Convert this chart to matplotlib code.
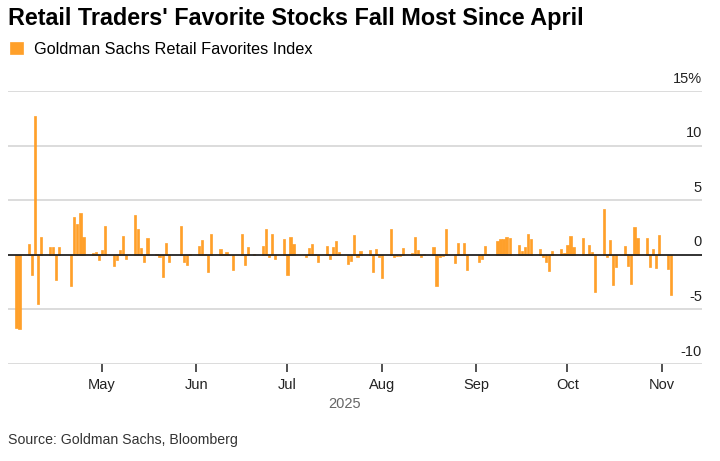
import numpy as np
import pandas as pd
import matplotlib
matplotlib.use("Agg")
import matplotlib.pyplot as plt
import matplotlib.dates as mdates
import matplotlib.transforms as mtransforms

plt.rcParams['font.family'] = ['Liberation Sans', 'DejaVu Sans']

# trading days Apr 3 - Nov 4 2025 (US market holidays removed)
holidays = ['2025-04-18', '2025-05-26', '2025-06-19', '2025-07-04', '2025-09-01']

apr = [-6.7, -6.8, 1.0, -1.85, 12.7, -4.5, 1.6, 0.72, 0.7, -2.3, 0.7,
       -2.9, 3.45, 2.85, 3.8, 1.62, 0.13, 0.22, -0.5]
may = [0.45, 2.68, -1.05, -0.52, 0.48, 1.68, -0.36, 3.65, 2.37, 0.58, -0.68,
       1.57, 0.05, -0.22, -2.07, 1.12, -0.66, 2.6, -0.65, -0.97, 0.03]
jun = [0.8, 1.38, 0.03, -1.56, 1.92, 0.52, 0.05, 0.3, -0.03, -1.36, 1.86,
       -0.93, 0.75, 0.1, 0.84, 2.33, -0.2, 1.87, -0.41, 1.48]
jul = [-1.81, 1.63, 0.96, -0.2, 0.62, 1.0, 0.03, -0.66, 0.81, -0.35, 0.72,
       1.23, 0.23, -0.83, -0.55, 1.84, -0.21, 0.35, 0.47, -1.54, 0.52, -0.2]
aug = [-2.16, 2.33, -0.2, -0.07, -0.1, 0.64, 0.21, 1.66, 0.44, -0.24, 0.1,
       0.75, -2.86, -0.2, -0.15, 2.4, -0.77, 1.05, 0.03, 1.11, -1.35]
sep = [-0.63, -0.36, 0.78, 0.03, 1.23, 1.48, 1.48, 1.63, 1.54, 0.9, 0.35,
       0.72, 1.92, 1.42, 0.57, -0.22, -0.64, -1.47, 0.36, 0.57, 0.15]
octo = [0.9, 1.7, 0.7, 1.55, 0.05, 0.93, 0.25, -3.37, 4.2, -0.2, 1.36,
        -2.75, -1.15, 0.8, -1.0, -2.7, 2.55, 1.55, 1.53, -1.15, 0.5, -1.21, 1.79]
nov = [-1.27, -3.65]

values = apr + may + jun + jul + aug + sep + octo + nov
days = pd.bdate_range('2025-04-03', '2025-11-04')
days = days[~days.isin(pd.to_datetime(holidays))]

months = ['2025-05-01', '2025-06-01', '2025-07-01', '2025-08-01',
          '2025-09-01', '2025-10-01', '2025-11-01']
month_labels = ['May', 'Jun', 'Jul', 'Aug', 'Sep', 'Oct', 'Nov']
yticks = [-10, -5, 0, 5, 10, 15]
ylabels = ['-10', '-5', '0', '5', '10', '15%']

orange = '#FFA02A'

fig = plt.figure(figsize=(7.2, 4.61), dpi=100)
ax = fig.add_axes([8/720, 97/461, 694/720, 273/461])

ax.bar(days, values, width=0.72, color=orange, edgecolor=orange, linewidth=0.5,
       zorder=2, label='Goldman Sachs Retail Favorites Index')
ax.axhline(0, color='#222222', lw=1.3, zorder=3)

x0 = mdates.date2num(pd.Timestamp('2025-05-01'))
ax.set_xlim(x0 - 30.8, x0 + 197.2)
ax.set_ylim(-10, 15)

for v in yticks:
    if v != 0:
        ax.axhline(v, color='#d9d9d9', lw=1.3, zorder=1)
ax.set_yticks([])

trans = mtransforms.blended_transform_factory(ax.transAxes, ax.transData)
trans = trans + mtransforms.ScaledTranslation(0, 6/72, fig.dpi_scale_trans)
for v, lab in zip(yticks, ylabels):
    ax.text(1.0, v, lab, transform=trans, ha='right', va='baseline',
            fontsize=10.5, color='#222222')

ax.set_xticks(pd.to_datetime(months))
ax.set_xticklabels(month_labels, fontsize=10.5, color='#222222')
ax.tick_params(axis='x', length=6, width=1.2, color='#333333', pad=4)

for s in ax.spines.values():
    s.set_visible(False)

fig.text(345/720, 1 - 404/461, '2025', fontsize=10.5, color='#666666',
         ha='center', va='center')

fig.text(8/720, 1 - 18/461, "Retail Traders' Favorite Stocks Fall Most Since April",
         fontsize=16.8, fontweight='bold', ha='left', va='center', color='#000000')

fig.legend(loc='center left', bbox_to_anchor=(5/720, 1 - 49/461), frameon=False,
           fontsize=11.7, handlelength=0.8, handleheight=0.8, handletextpad=0.7,
           borderaxespad=0.0, borderpad=0.3)

fig.text(8/720, 1 - 440/461, 'Source: Goldman Sachs, Bloomberg',
         fontsize=10.2, color='#333333', ha='left', va='center')

fig.savefig('out.png', dpi=100)
